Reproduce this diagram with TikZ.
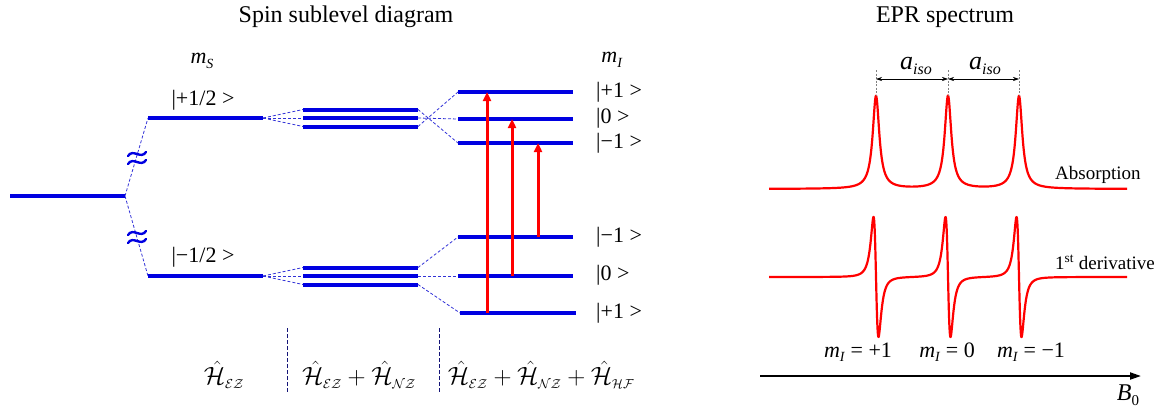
\RequirePackage{fix-cm}
\documentclass[tikz,border=0pt]{standalone}
\usepackage{amsmath}
\usepackage{fontspec}
\setmainfont{Liberation Serif}
\usetikzlibrary{arrows.meta}
\definecolor{lblue}{RGB}{0,0,225}
\definecolor{cblue}{RGB}{50,50,215}
\definecolor{dnavy}{RGB}{20,20,120}
\newcommand{\itsub}[3][12]{\textit{#2}\raisebox{-0.45ex}{\fontsize{#1}{#1}\selectfont\textit{#3}}}
\newcommand{\hamop}[1]{\hat{\mathcal{H}}_{\mbox{\fontsize{13}{13}\selectfont$\mathcal{#1}$}}}
\begin{document}
\begin{tikzpicture}[x=1pt,y=-1pt,
  lvl/.style={draw=lblue, line width=4pt},
  conn/.style={draw=cblue, line width=0.8pt, dash pattern=on 3pt off 2pt},
  trans/.style={draw=red, line width=3pt, -{Triangle[length=9pt,width=8pt]}},
  spec/.style={draw=red, line width=2.2pt, line join=round},
  lab/.style={font=\fontsize{19}{22}\selectfont, inner sep=0pt},
  ket/.style={font=\fontsize{22}{24}\selectfont, inner sep=0pt},
  ttl/.style={font=\fontsize{24}{28}\selectfont, inner sep=0pt},
  ham/.style={font=\fontsize{25}{30}\selectfont, inner sep=0pt},
  wave/.style={draw=lblue, line width=2.4pt, line cap=round},
  divider/.style={draw=dnavy, line width=0.7pt, dash pattern=on 4pt off 2pt},
  approxsign/.pic={
    \draw[wave] (-9,-2) .. controls (-4,-10) and (4,2) .. (9,-6);
    \draw[wave] (-9,6) .. controls (-4,-2) and (4,10) .. (9,2);
  },
  declare function={L(\t)=1/(1+(\t/4)^2); D(\t)=(\t/4.3)/(1+(\t/4.3)^2)/(1+(\t/4.3)^2);}
]
\useasboundingbox (0,0) rectangle (1155,408);

% titles
\node[ttl] (t1) at (346,17) {Spin sublevel diagram};
\node[ttl] (t2) at (945,17) {EPR spectrum};

% ---------- level coordinates ----------
\coordinate (a0) at (10,196);  \coordinate (a1) at (125,196);
\coordinate (u0) at (148,118); \coordinate (u1) at (263,118);
\coordinate (d0) at (148,276); \coordinate (d1) at (263,276);
% triples
\coordinate (ta0) at (303,109.5); \coordinate (ta1) at (418,109.5);
\coordinate (tb0) at (303,118);   \coordinate (tb1) at (418,118);
\coordinate (tc0) at (303,126.5); \coordinate (tc1) at (418,126.5);
\coordinate (la0) at (303,267.5); \coordinate (la1) at (418,267.5);
\coordinate (lb0) at (303,276);   \coordinate (lb1) at (418,276);
\coordinate (lc0) at (303,284.5); \coordinate (lc1) at (418,284.5);
% hyperfine levels
\coordinate (hp0) at (458,92);  \coordinate (hp1) at (573,92);
\coordinate (hz0) at (458,119); \coordinate (hz1) at (573,119);
\coordinate (hm0) at (458,143); \coordinate (hm1) at (573,143);
\coordinate (gm0) at (458,237); \coordinate (gm1) at (573,237);
\coordinate (gz0) at (458,276); \coordinate (gz1) at (573,276);
\coordinate (gp0) at (460,313); \coordinate (gp1) at (576,313);

% dashed connectors
\draw[conn] (a1) -- (u0);
\draw[conn] (a1) -- (d0);
\foreach \t in {ta0,tb0,tc0} \draw[conn] (u1) -- (\t);
\foreach \t in {la0,lb0,lc0} \draw[conn] (d1) -- (\t);
\draw[conn] (ta1) -- (hm0);
\draw[conn] (tb1) -- (hz0);
\draw[conn] (tc1) -- (hp0);
\draw[conn] (la1) -- (gm0);
\draw[conn] (lb1) -- (gz0);
\draw[conn] (lc1) -- (gp0);

% levels
\foreach \p in {a,u,d,ta,tb,tc,la,lb,lc,hp,hz,hm,gm,gz,gp}
  \draw[lvl] (\p0) -- (\p1);

% approx signs (axis breaks)
\pic (ap1) at (137,158) {approxsign};
\pic (ap2) at (137,237) {approxsign};

% transitions
\coordinate (s1) at (487,313); \coordinate (e1) at (487,92);
\coordinate (s2) at (512,276); \coordinate (e2) at (512,119);
\coordinate (s3) at (538,237); \coordinate (e3) at (538,143);
\draw[trans] (s1) -- (e1);
\draw[trans] (s2) -- (e2);
\draw[trans] (s3) -- (e3);

% labels
\node[ket] (ms) at (202,61) {\itsub[14]{m}{S}};
\node[ket] (mi) at (612,60) {\itsub[14]{m}{I}};
\node[ket] (lup) at (203,100) {|+1/2 >};
\node[ket] (ldn) at (203,257) {|−1/2 >};
\node[ket, anchor=west] (r1) at (596,92) {|+1 >};
\node[ket, anchor=west] (r2) at (596,118) {|0 >};
\node[ket, anchor=west] (r3) at (596,143) {|−1 >};
\node[ket, anchor=west] (r4) at (596,237) {|−1 >};
\node[ket, anchor=west] (r5) at (596,275) {|0 >};
\node[ket, anchor=west] (r6) at (596,313) {|+1 >};

% dividers
\coordinate (v1a) at (287,328); \coordinate (v1b) at (287,392);
\coordinate (v2a) at (439,328); \coordinate (v2b) at (439,392);
\draw[divider] (v1a) -- (v1b);
\draw[divider] (v2a) -- (v2b);

% Hamiltonians
\node[ham] (h1) at (224,375) {$\hamop{EZ}$};
\node[ham] (h2) at (359,375) {$\hamop{EZ}+\hamop{NZ}$};
\node[ham] (h3) at (541,375) {$\hamop{EZ}+\hamop{NZ}+\hamop{HF}$};

% ---------- EPR spectrum ----------
\draw[spec] plot[domain=769:1127, samples=717]
  (\x, {189 - 93*(L(\x-876)+L(\x-948)+L(\x-1019))});
\draw[spec] plot[domain=769:1127, samples=1433]
  (\x, {277 + 185*(D(\x-876)+D(\x-948)+D(\x-1019))});

% a_iso markers
\coordinate (m1t) at (876,70); \coordinate (m1b) at (876,96);
\coordinate (m2t) at (948,70); \coordinate (m2b) at (948,96);
\coordinate (m3t) at (1019,70); \coordinate (m3b) at (1019,96);
\foreach \i in {1,2,3} \draw[gray, line width=0.8pt, dash pattern=on 2pt off 1.5pt] (m\i t) -- (m\i b);
\coordinate (k1) at (876,79); \coordinate (k2) at (948,79); \coordinate (k3) at (1019,79);
\draw[line width=0.6pt, {Stealth[length=6pt,width=4pt]}-{Stealth[length=6pt,width=4pt]}] (k1) -- (k2);
\draw[line width=0.6pt, {Stealth[length=6pt,width=4pt]}-{Stealth[length=6pt,width=4pt]}] (k2) -- (k3);
\node[font=\fontsize{26}{28}\selectfont, inner sep=0pt] (ai1) at (916,66) {\itsub[16]{a}{iso}};
\node[font=\fontsize{26}{28}\selectfont, inner sep=0pt] (ai2) at (985,66) {\itsub[16]{a}{iso}};

\node[lab, anchor=west] (abs) at (1055,175) {Absorption};
\node[lab, anchor=west] (der) at (1055,262) {1\textsuperscript{st} derivative};

\node[ket] (q1) at (858,352) {\itsub[14]{m}{I} = +1};
\node[ket] (q2) at (947,352) {\itsub[14]{m}{I} = 0};
\node[ket] (q3) at (1031,352) {\itsub[14]{m}{I} = −1};

% B0 axis
\coordinate (b0) at (760,376); \coordinate (b1) at (1141,376);
\draw[line width=2pt, -{Triangle[length=11pt,width=7pt]}] (b0) -- (b1);
\node[font=\fontsize{24}{26}\selectfont, inner sep=0pt] (bl) at (1128,395) {\textit{B}\raisebox{-0.45ex}{\fontsize{15}{15}\selectfont 0}};
\end{tikzpicture}
\end{document}
